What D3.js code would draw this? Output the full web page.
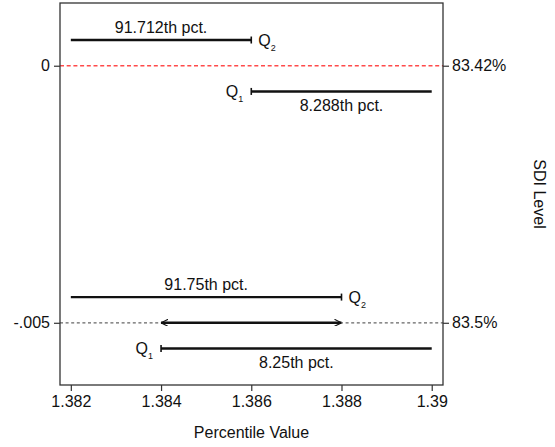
<!DOCTYPE html>
<html>
<head>
<meta charset="utf-8">
<script src="https://cdn.jsdelivr.net/npm/d3@7"></script>
<style>
  body { margin: 0; background: #fff; }
  text { font-family: "Liberation Sans", Arial, Helvetica, sans-serif; fill: #111; }
</style>
</head>
<body>
<div id="chart"></div>
<script>
// SDI levels (y) and the quantile segments at each level
var sdiLevels = [0, -0.005];
var rightLabels = ["83.42%", "83.5%"];
var leftLabels = ["0", "-.005"];
var q2Start = [1.382, 1.382];
var q2End = [1.386, 1.388];
var q1Start = [1.386, 1.384];
var q1End = [1.39, 1.39];
var q2Pct = ["91.712th pct.", "91.75th pct."];
var q1Pct = ["8.288th pct.", "8.25th pct."];
var xTicks = [1.382, 1.384, 1.386, 1.388, 1.39];
var xTickLabels = ["1.382", "1.384", "1.386", "1.388", "1.39"];

var svgWidth = 555;
var svgHeight = 447;
var margin = { top: 3, right: 112, bottom: 62, left: 60 };
var width = svgWidth - margin.left - margin.right;
var height = svgHeight - margin.top - margin.bottom;

var svg = d3.select("#chart")
  .append("svg")
  .attr("width", svgWidth)
  .attr("height", svgHeight);

var chartGroup = svg.append("g")
  .attr("transform", `translate(${margin.left}, ${margin.top})`);

var xScale = d3.scaleLinear()
  .domain([1.38176, 1.39025])
  .range([0, width]);

var yScale = d3.scaleLinear()
  .domain([-0.00621, 0.00122])
  .range([height, 0]);

var off = 0.0005; // vertical offset of the quantile bars around each level

// arrow marker
svg.append("defs").append("marker")
  .attr("id", "arrow")
  .attr("viewBox", "0 0 10 10")
  .attr("refX", 10)
  .attr("refY", 5)
  .attr("markerWidth", 7)
  .attr("markerHeight", 7)
  .attr("markerUnits", "userSpaceOnUse")
  .attr("orient", "auto-start-reverse")
  .append("path")
  .attr("d", "M0,0 L10,5 L0,10")
  .attr("fill", "none")
  .attr("stroke", "#111")
  .attr("stroke-width", 1.6);

// reference lines
sdiLevels.forEach(function(lv, i) {
  chartGroup.append("line")
    .attr("x1", 0).attr("x2", width)
    .attr("y1", yScale(lv)).attr("y2", yScale(lv))
    .attr("stroke", i === 0 ? "#ff4a4a" : "#666")
    .attr("stroke-width", i === 0 ? 1.5 : 1.3)
    .attr("stroke-dasharray", i === 0 ? "4,2.7" : "3,2.6");
});

// axes
var bottomAxis = d3.axisBottom(xScale)
  .tickValues(xTicks)
  .tickFormat(function(d, i) { return xTickLabels[i]; })
  .tickSize(6).tickPadding(5);
var leftAxis = d3.axisLeft(yScale)
  .tickValues(sdiLevels)
  .tickFormat(function(d, i) { return leftLabels[i]; })
  .tickSize(6).tickPadding(4);
var rightAxis = d3.axisRight(yScale)
  .tickValues(sdiLevels)
  .tickFormat(function(d, i) { return rightLabels[i]; })
  .tickSize(6).tickPadding(3);

function styleAxis(g) {
  g.select(".domain").remove();
  g.selectAll(".tick line").attr("stroke", "#333").attr("stroke-width", 1.2);
  g.selectAll(".tick text").style("font-size", "16px").attr("fill", "#111");
}

chartGroup.append("g")
  .attr("transform", `translate(0, ${height})`)
  .call(bottomAxis)
  .call(styleAxis);
chartGroup.append("g")
  .call(leftAxis)
  .call(styleAxis);
chartGroup.append("g")
  .attr("transform", `translate(${width}, 0)`)
  .call(rightAxis)
  .call(styleAxis);

// plot frame
chartGroup.append("rect")
  .attr("x", 0).attr("y", 0)
  .attr("width", width).attr("height", height)
  .attr("fill", "none")
  .attr("stroke", "#333")
  .attr("stroke-width", 1.3);

// quantile bars
sdiLevels.forEach(function(lv, i) {
  var yq2 = yScale(lv + off);
  var yq1 = yScale(lv - off);

  // Q2 bar, cap at right end
  chartGroup.append("line")
    .attr("x1", xScale(q2Start[i])).attr("x2", xScale(q2End[i]))
    .attr("y1", yq2).attr("y2", yq2)
    .attr("stroke", "#111").attr("stroke-width", 2.4);
  chartGroup.append("line")
    .attr("x1", xScale(q2End[i])).attr("x2", xScale(q2End[i]))
    .attr("y1", yq2 - 3.5).attr("y2", yq2 + 3.5)
    .attr("stroke", "#111").attr("stroke-width", 1.6);
  chartGroup.append("text")
    .attr("x", (xScale(q2Start[i]) + xScale(q2End[i])) / 2)
    .attr("y", yq2 - 7)
    .attr("text-anchor", "middle")
    .style("font-size", "16px")
    .text(q2Pct[i]);
  var q2 = chartGroup.append("text")
    .attr("x", xScale(q2End[i]) + 7)
    .attr("y", yq2 + 6)
    .style("font-size", "16px");
  q2.append("tspan").text("Q");
  q2.append("tspan").attr("dy", 5).style("font-size", "9px").text("2");

  // Q1 bar, cap at left end
  chartGroup.append("line")
    .attr("x1", xScale(q1Start[i])).attr("x2", xScale(q1End[i]))
    .attr("y1", yq1).attr("y2", yq1)
    .attr("stroke", "#111").attr("stroke-width", 2.4);
  chartGroup.append("line")
    .attr("x1", xScale(q1Start[i])).attr("x2", xScale(q1Start[i]))
    .attr("y1", yq1 - 3.5).attr("y2", yq1 + 3.5)
    .attr("stroke", "#111").attr("stroke-width", 1.6);
  chartGroup.append("text")
    .attr("x", (xScale(q1Start[i]) + xScale(q1End[i])) / 2)
    .attr("y", yq1 + 20)
    .attr("text-anchor", "middle")
    .style("font-size", "16px")
    .text(q1Pct[i]);
  var q1 = chartGroup.append("text")
    .attr("x", xScale(q1Start[i]) - 8)
    .attr("y", yq1 + 6)
    .attr("text-anchor", "end")
    .style("font-size", "16px");
  q1.append("tspan").text("Q");
  q1.append("tspan").attr("dy", 5).style("font-size", "9px").text("1");

  // double arrow between Q1 start and Q2 end (where they differ)
  if (q1Start[i] < q2End[i]) {
    chartGroup.append("line")
      .attr("x1", xScale(q1Start[i])).attr("x2", xScale(q2End[i]))
      .attr("y1", yScale(lv)).attr("y2", yScale(lv))
      .attr("stroke", "#111").attr("stroke-width", 2.4)
      .attr("marker-start", "url(#arrow)")
      .attr("marker-end", "url(#arrow)");
  }
});

// axis titles
chartGroup.append("text")
  .attr("x", width / 2)
  .attr("y", height + 53)
  .attr("text-anchor", "middle")
  .style("font-size", "16px")
  .text("Percentile Value");

chartGroup.append("text")
  .attr("transform", `translate(${width + 91}, ${height / 2}) rotate(90)`)
  .attr("text-anchor", "middle")
  .style("font-size", "16px")
  .text("SDI Level");
</script>
</body>
</html>
